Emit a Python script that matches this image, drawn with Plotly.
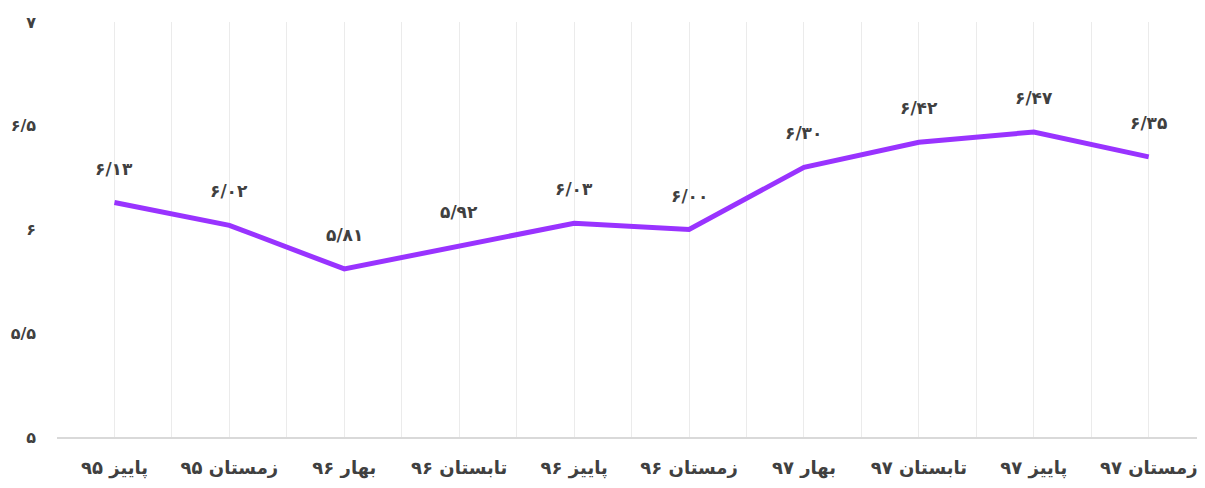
import plotly.graph_objects as go

categories = ["پاییز ۹۵", "زمستان ۹۵", "بهار ۹۶", "تابستان ۹۶", "پاییز ۹۶",
              "زمستان ۹۶", "بهار ۹۷", "تابستان ۹۷", "پاییز ۹۷", "زمستان ۹۷"]
values = [6.13, 6.02, 5.81, 5.92, 6.03, 6.00, 6.30, 6.42, 6.47, 6.35]
y_tickvals = [5, 5.5, 6, 6.5, 7]
y_ticktext = ["۵", "۵/۵", "۶", "۶/۵", "۷"]

FA = str.maketrans("0123456789.", "۰۱۲۳۴۵۶۷۸۹/")


def fa(v):
    return ("%.2f" % v).translate(FA)


xs = list(range(len(categories)))
FONT = "DejaVu Sans"
TXT = "#404040"

fig = go.Figure()
fig.add_trace(go.Scatter(
    x=xs, y=values, mode="lines",
    line=dict(color="#9933FF", width=5),
    hoverinfo="skip", showlegend=False,
))

for x, v in zip(xs, values):
    fig.add_annotation(x=x, y=v, text="<b>%s</b>" % fa(v), showarrow=False,
                       yshift=34, font=dict(family=FONT, size=17, color=TXT))

fig.update_layout(
    width=1189, height=472,
    margin=dict(l=49, r=0, t=14, b=43),
    paper_bgcolor="white", plot_bgcolor="white",
    font=dict(family=FONT, size=16, color=TXT),
)
fig.update_xaxes(
    range=[-0.5, len(categories) - 0.58],
    tickmode="array", tickvals=xs,
    ticktext=["<b>%s</b>" % c for c in categories],
    showgrid=True, gridcolor="#ebebeb", gridwidth=1,
    minor=dict(showgrid=True, gridcolor="#ebebeb", gridwidth=1, tick0=0.5, dtick=1),
    showline=True, linecolor="#d9d9d9", linewidth=2,
    ticks="", zeroline=False, ticklabelstandoff=13, automargin=False,
    ticklabeloverflow="allow",
    tickfont=dict(family=FONT, size=18, color=TXT),
)
fig.update_yaxes(
    range=[5, 7], tickmode="array", tickvals=y_tickvals,
    ticktext=["<b>%s</b>" % t for t in y_ticktext],
    showgrid=False, zeroline=False, showline=False, ticks="",
    ticklabelstandoff=20, automargin=False,
    tickfont=dict(family=FONT, size=16, color=TXT),
)

fig.write_html("out.html")
